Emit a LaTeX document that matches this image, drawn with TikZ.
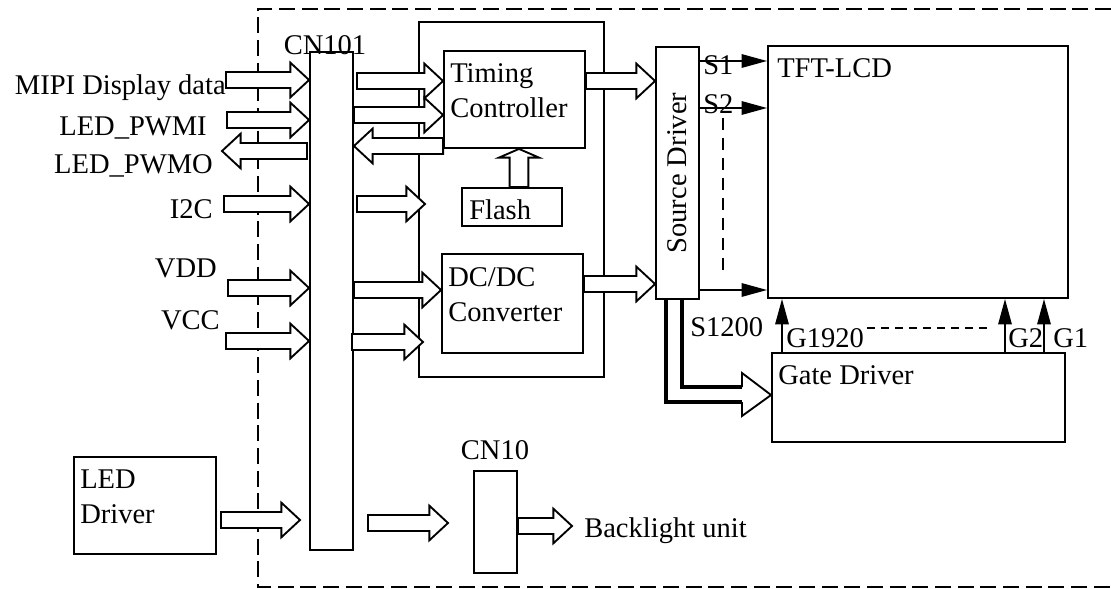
\documentclass[tikz,border=0pt]{standalone}
\usepackage{fontspec}
\setmainfont{Liberation Serif}
\usetikzlibrary{arrows.meta, fit, calc}

\tikzset{
  box/.style={draw, line width=1.4pt, inner sep=0pt},
  txt/.style={inner sep=0pt, align=left},
  fat/.style={draw, fill=white, line width=1.4pt, line join=miter},
  sig/.style={line width=1.4pt, -{Triangle[length=19pt,width=10pt]}},
  frame/.style={line width=1.4pt, dash pattern=on 12pt off 5pt},
}
\newcommand{\sw}{6pt}    % half shaft
\newcommand{\hw}{13pt}   % half head
\newcommand{\hl}{14pt}   % head length
% block arrow at height #1 from x of #2 to x of #3
\newcommand{\fatR}[3]{%
  \draw[fat] let \p1=(#2), \p2=(#3), \p3=(0,#1) in
    (\x1,\y3+\sw) -- (\x2-\hl,\y3+\sw) -- (\x2-\hl,\y3+\hw) -- (\x2,\y3)
    -- (\x2-\hl,\y3-\hw) -- (\x2-\hl,\y3-\sw) -- (\x1,\y3-\sw) -- cycle;}
\newcommand{\fatL}[3]{%
  \draw[fat] let \p1=(#2), \p2=(#3), \p3=(0,#1) in
    (\x1,\y3+\sw) -- (\x2+\hl,\y3+\sw) -- (\x2+\hl,\y3+\hw) -- (\x2,\y3)
    -- (\x2+\hl,\y3-\hw) -- (\x2+\hl,\y3-\sw) -- (\x1,\y3-\sw) -- cycle;}

\begin{document}
\begin{tikzpicture}[x=0.75pt, y=-0.75pt, font=\fontsize{21.4}{26}\selectfont]
  \useasboundingbox (0,0) rectangle (1111,589);
  % module outline
  \draw[frame] (1111,9) -| (258,587) -- (1111,587);

  % blocks
  \node[box, fit={(310,52) (353,550)}] (cn101) {};
  \node[box, fit={(419,22) (604,377)}] (tconbox) {};
  \node[box, fit={(444,51) (585,148)}] (tcon) {};
  \node[box, fit={(462,188) (562,226)}] (flash) {};
  \node[box, fit={(442,254) (583,353)}] (dcdc) {};
  \node[box, fit={(656,47) (699,299)}] (sd) {};
  \node[box, fit={(768,46) (1068,298)}] (tft) {};
  \node[box, fit={(772,353) (1065,442)}] (gd) {};
  \node[box, fit={(74,457) (216,554)}] (led) {};
  \node[box, fit={(474,471) (517,573)}] (cn10) {};

  % block texts
  \node[txt, anchor=base] (cn101-t) at (325,54) {CN101};
  \node[txt, anchor=base west] (tcon-t) at (450,117) {Timing\\Controller};
  \node[txt, anchor=base west] (flash-t) at (469,219) {Flash};
  \node[txt, anchor=base west] (dcdc-t) at (448,321) {DC/DC\\Converter};
  \node[txt, rotate=90] (sd-t) at (sd.center) {Source Driver};
  \node[txt, anchor=base west] (tft-t) at (777,77) {TFT-LCD};
  \node[txt, anchor=base west] (gd-t) at (778,384) {Gate Driver};
  \node[txt, anchor=base west] (led-t) at (80,523) {LED\\Driver};
  \node[txt, anchor=base] (cn10-t) at (495,459) {CN10};
  \node[txt, anchor=base west] (bl) at (584,537) {Backlight unit};

  % interface signals
  \node[txt, anchor=base east] (mipi) at (226,94) {MIPI Display data};
  \node[txt, anchor=base east] (pwmi) at (207,135) {LED\_PWMI};
  \node[txt, anchor=base east] (pwmo) at (213,173) {LED\_PWMO};
  \node[txt, anchor=base east] (i2c) at (213,218) {I2C};
  \node[txt, anchor=base east] (vdd) at (217,277) {VDD};
  \node[txt, anchor=base east] (vcc) at (220,329) {VCC};

  \fatR{80}{mipi.east}{cn101.west}
  \fatR{120}{227,0}{cn101.west}
  \fatL{151}{307,0}{222,0}
  \fatR{204}{224,0}{cn101.west}
  \fatR{288}{228,0}{cn101.west}
  \fatR{341}{226,0}{cn101.west}
  \fatR{520}{221,0}{300,0}

  % inside the module
  \fatR{81}{357,0}{tcon.west}
  \fatR{115}{cn101.east}{tcon.west}
  \fatL{146}{tcon.west}{cn101.east}
  \fatR{204}{357,0}{425,0}
  \fatR{290}{cn101.east}{dcdc.west}
  \fatR{342}{352,0}{423,0}
  \fatR{523}{368,0}{448,0}
  \fatR{526}{cn10.east}{572,0}
  \fatR{81}{tcon.east}{sd.west}
  \fatR{284}{dcdc.east}{sd.west}

  % flash to timing controller
  \draw[fat] let \p1=(flash.north), \p2=(tcon.south), \p3=(519,0) in
    (\x3-7pt,\y1) -- (\x3-7pt,\y2-6.5pt) -- (\x3-15pt,\y2-6.5pt) -- (\x3,\y2)
    -- (\x3+15pt,\y2-6.5pt) -- (\x3+7pt,\y2-6.5pt) -- (\x3+7pt,\y1) -- cycle;

  % source lines
  \draw[sig] (sd.east |- 0,61) -- (tft.west |- 0,61);
  \draw[sig] (sd.east |- 0,108) -- (tft.west |- 0,108);
  \draw[sig] (sd.east |- 0,290) -- (tft.west |- 0,290);
  \draw[line width=1.4pt, dash pattern=on 9pt off 6pt] (723,118) -- (723,275);
  \node[txt, anchor=base west] (s1) at (703,74) {S1};
  \node[txt, anchor=base west] (s2) at (703,113) {S2};
  \node[txt, anchor=base west] (s1200) at (690,336) {S1200};

  % gate lines
  \foreach \gx in {782,1005,1044}
    \draw[sig] (gd.north -| \gx,0) -- (tft.south -| \gx,0);
  \draw[line width=1.4pt, dash pattern=on 6pt off 4.5pt] (867,328) -- (990,328);
  \node[txt, anchor=base west] (g1920) at (786,347) {G1920};
  \node[txt, anchor=base west] (g2) at (1008,347) {G2};
  \node[txt, anchor=base west] (g1) at (1053,347) {G1};

  % source driver to gate driver
  \draw[line width=2.4pt] (sd.south -| 666,0) |- (742,402);
  \draw[line width=2.4pt] (sd.south -| 682,0) |- (742,387);
  \draw[line width=1.4pt, line join=miter] (742,387) -- (742,373)
    -- (gd.west |- 0,395) -- (742,416) -- (742,402);
\end{tikzpicture}
\end{document}
